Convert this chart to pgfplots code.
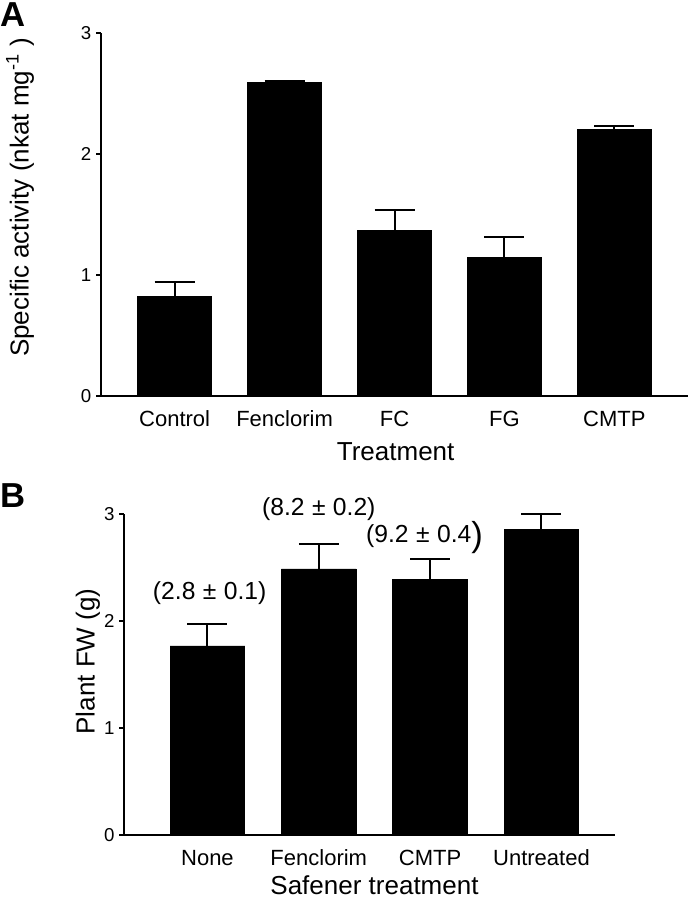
\documentclass[border=0pt]{standalone}
\usepackage{fontspec}
\setmainfont{Liberation Sans}
\usepackage{pgfplots}
\pgfplotsset{compat=1.18}
\pgfplotsset{
  panel/.style={
    scale only axis,
    ybar,
    ymin=0, ymax=3,
    ytick={0,1,2,3},
    enlargelimits=false,
    clip=false,
    axis lines*=left,
    axis line style={line width=1.5pt},
    xtick=data,
    xtick style={draw=none},
    ytick style={line width=1.5pt, black},
    tick align=outside,
    major tick length=3.75pt,
    /pgf/number format/assume math mode=true,
    yticklabel style={font=\fontsize{14}{16}\selectfont},
    xticklabel style={font=\fontsize{16.5}{19}\selectfont, yshift=-4pt},
    label style={font=\fontsize{19.5}{22}\selectfont},
  },
  barplot/.style={
    fill=black, draw=black, line width=0.5pt,
    error bars/.cd, y dir=plus, y explicit,
    error bar style={line width=1.5pt, black},
    error mark options={rotate=90, line width=1.5pt, black, mark size=15pt},
  },
}
\pgfplotstableread{
x y e
0 0.82 0.12
1 2.59 0.01
2 1.37 0.165
3 1.145 0.165
4 2.20 0.03
}\dataA
\pgfplotstableread{
x y e
0 1.765 0.205
1 2.485 0.23
2 2.39 0.185
3 2.855 0.145
}\dataB
\newcommand{\pmsp}{\hspace{0.3em}±\hspace{0.3em}}
\begin{document}
\begin{tikzpicture}
\useasboundingbox (0,0) rectangle (516.75pt,-674.25pt);
\node[font=\fontsize{26}{28}\selectfont\bfseries, inner sep=0pt, anchor=base west] at (0pt,-19.8pt) {A};
\node[font=\fontsize{26}{28}\selectfont\bfseries, inner sep=0pt, anchor=base west] at (0pt,-380.25pt) {B};
\begin{axis}[panel,
  at={(75.75pt,-297pt)}, anchor=south west,
  width=440.25pt, height=272.25pt,
  xmin=-0.67, xmax=4.67,
  bar width=55.5pt,
  xticklabels={Control,Fenclorim,FC,FG,CMTP},
  xlabel={Treatment},
  ylabel={Specific activity (nkat mg\textsuperscript{-1}\ )},
  xlabel style={at={(axis description cs:0.502,-0.154)}, anchor=center},
  ylabel style={at={(axis description cs:-0.138,0.547)}, anchor=center},
]
\addplot[barplot] table[x=x, y=y, y error=e] {\dataA};
\end{axis}
\begin{axis}[panel,
  at={(93.2pt,-626.25pt)}, anchor=south west,
  width=368pt, height=241pt,
  xmin=-0.747, xmax=3.66,
  bar width=56pt,
  xticklabels={None,Fenclorim,CMTP,Untreated},
  xlabel={Safener treatment},
  ylabel={Plant FW (g)},
  xlabel style={at={(axis description cs:0.51,-0.155)}, anchor=center},
  ylabel style={at={(axis description cs:-0.074,0.54)}, anchor=center},
]
\addplot[barplot] table[x=x, y=y, y error=e] {\dataB};
\node[font=\fontsize{18.5}{21}\selectfont] at (axis cs:0.02,2.26) {(2.8\pmsp 0.1)};
\node[font=\fontsize{18.5}{21}\selectfont] at (axis cs:1.0,3.04) {(8.2\pmsp 0.2)};
\node[font=\fontsize{18.5}{21}\selectfont] at (axis cs:1.95,2.776) {(9.2\pmsp 0.4\raisebox{-0.18em}{\fontsize{26}{28}\selectfont)}};
\end{axis}
\end{tikzpicture}
\end{document}
